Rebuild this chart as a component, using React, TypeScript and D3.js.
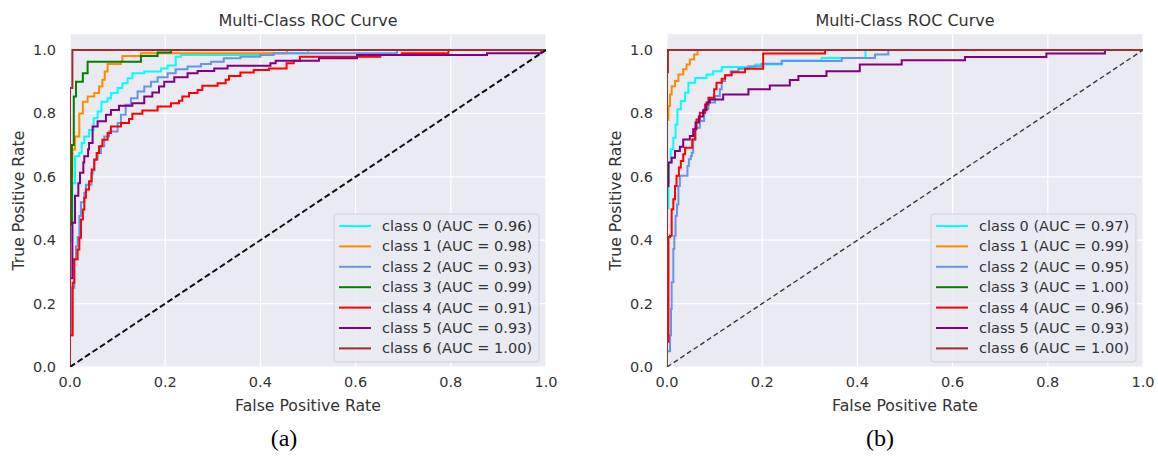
import { useEffect, useRef } from "react";
import * as d3 from "d3";

// ROC points: [fpr, tpr] — at each fpr the tpr steps up to the given value
const classA0 = [[0,0],[0,0.4],[0.005,0.58],[0.0105,0.665],[0.0196,0.675],[0.0245,0.707],[0.03,0.727],[0.04,0.748],[0.0496,0.785],[0.058,0.806],[0.066,0.837],[0.079,0.848],[0.086,0.864],[0.1,0.88],[0.11,0.895],[0.121,0.911],[0.131,0.927],[0.156,0.932],[0.191,0.942],[0.205,0.951],[0.222,0.979],[0.233,0.984],[0.407,0.99],[0.5,1],[1,1]];
const classA1 = [[0,0],[0,0.6],[0.005,0.686],[0.0105,0.727],[0.0196,0.8],[0.027,0.837],[0.037,0.853],[0.051,0.864],[0.061,0.885],[0.068,0.906],[0.073,0.932],[0.079,0.956],[0.107,0.963],[0.11,0.981],[0.149,0.99],[0.456,1],[1,1]];
const classA2 = [[0,0],[0,0.1],[0.004,0.25],[0.009,0.34],[0.0126,0.38],[0.016,0.41],[0.0196,0.476],[0.023,0.52],[0.03,0.55],[0.0335,0.575],[0.045,0.61],[0.0475,0.62],[0.051,0.655],[0.058,0.675],[0.065,0.696],[0.072,0.727],[0.082,0.743],[0.1,0.77],[0.107,0.796],[0.117,0.827],[0.128,0.848],[0.142,0.869],[0.156,0.885],[0.17,0.9],[0.184,0.914],[0.205,0.927],[0.222,0.939],[0.247,0.948],[0.275,0.956],[0.296,0.963],[0.323,0.974],[0.358,0.979],[0.4,0.984],[0.428,0.99],[0.687,1],[1,1]];
const classA3 = [[0,0],[0,0.45],[0.004,0.7],[0.008,0.853],[0.0126,0.9],[0.027,0.927],[0.037,0.963],[0.149,0.981],[0.184,0.992],[0.212,1],[1,1]];
const classA4 = [[0,0],[0,0.1],[0.0056,0.266],[0.009,0.34],[0.016,0.371],[0.0196,0.408],[0.023,0.465],[0.027,0.497],[0.03,0.534],[0.0335,0.56],[0.04,0.586],[0.0455,0.623],[0.051,0.654],[0.056,0.675],[0.061,0.696],[0.068,0.717],[0.079,0.738],[0.086,0.759],[0.107,0.77],[0.124,0.782],[0.131,0.799],[0.152,0.809],[0.184,0.822],[0.212,0.832],[0.229,0.84],[0.236,0.853],[0.25,0.864],[0.268,0.874],[0.278,0.887],[0.31,0.895],[0.327,0.906],[0.334,0.918],[0.358,0.929],[0.386,0.937],[0.418,0.942],[0.455,0.958],[0.47,0.966],[0.483,0.979],[0.652,0.984],[0.697,0.99],[0.795,1],[1,1]];
const classA5 = [[0,0],[0,0.28],[0.005,0.455],[0.0105,0.54],[0.0175,0.58],[0.021,0.613],[0.028,0.645],[0.03,0.665],[0.038,0.687],[0.04,0.707],[0.0475,0.759],[0.058,0.775],[0.0755,0.796],[0.086,0.811],[0.103,0.824],[0.131,0.832],[0.156,0.853],[0.173,0.866],[0.187,0.885],[0.198,0.9],[0.219,0.914],[0.247,0.927],[0.268,0.934],[0.303,0.942],[0.331,0.95],[0.421,0.958],[0.432,0.966],[0.523,0.974],[0.603,0.984],[0.876,0.99],[0.99,1],[1,1]];
const classA6 = [[0,0],[0,0.88],[0.005,1],[1,1]];

const classB0 = [[0,0],[0,0.5],[0.003,0.58],[0.0042,0.645],[0.0077,0.687],[0.0133,0.723],[0.018,0.765],[0.022,0.813],[0.029,0.839],[0.038,0.865],[0.045,0.897],[0.059,0.912],[0.083,0.923],[0.097,0.933],[0.115,0.946],[0.185,0.954],[0.241,0.967],[0.325,0.975],[0.417,1],[1,1]];
const classB1 = [[0,0],[0,0.78],[0.003,0.823],[0.0063,0.86],[0.0098,0.886],[0.0168,0.902],[0.024,0.923],[0.034,0.939],[0.041,0.954],[0.048,0.97],[0.057,0.986],[0.064,1],[1,1]];
const classB2 = [[0,0],[0,0.05],[0.0063,0.1],[0.0084,0.183],[0.0098,0.267],[0.0133,0.372],[0.0154,0.414],[0.018,0.477],[0.021,0.513],[0.024,0.571],[0.027,0.603],[0.043,0.634],[0.046,0.655],[0.05,0.666],[0.052,0.676],[0.055,0.718],[0.06,0.755],[0.069,0.776],[0.078,0.813],[0.087,0.834],[0.101,0.855],[0.111,0.876],[0.115,0.902],[0.122,0.92],[0.134,0.933],[0.15,0.941],[0.171,0.949],[0.199,0.957],[0.241,0.965],[0.367,0.975],[0.437,0.986],[0.465,1],[1,1]];
const classB3 = [[0,0],[0,1],[1,1]];
const classB4 = [[0,0],[0,0.08],[0.003,0.41],[0.0063,0.414],[0.0098,0.498],[0.0133,0.529],[0.0168,0.571],[0.02,0.603],[0.025,0.629],[0.029,0.65],[0.034,0.671],[0.038,0.692],[0.053,0.718],[0.059,0.75],[0.062,0.781],[0.069,0.802],[0.08,0.828],[0.087,0.849],[0.099,0.876],[0.104,0.897],[0.115,0.909],[0.122,0.92],[0.136,0.93],[0.164,0.941],[0.202,0.989],[0.332,1],[1,1]];
const classB5 = [[0,0],[0,0.57],[0.003,0.645],[0.0098,0.66],[0.0168,0.681],[0.027,0.695],[0.034,0.718],[0.048,0.729],[0.055,0.75],[0.06,0.771],[0.067,0.79],[0.076,0.81],[0.083,0.834],[0.09,0.844],[0.118,0.86],[0.171,0.876],[0.216,0.888],[0.258,0.905],[0.276,0.918],[0.335,0.933],[0.405,0.954],[0.493,0.968],[0.626,0.978],[0.797,0.989],[0.92,1],[1,1]];
const classB6 = [[0,0],[0,0.93],[0.002,1],[1,1]];

const curvesA = [classA0, classA1, classA2, classA3, classA4, classA5, classA6];
const curvesB = [classB0, classB1, classB2, classB3, classB4, classB5, classB6];

const classNames = ["class 0", "class 1", "class 2", "class 3", "class 4", "class 5", "class 6"];
const aucA = [0.96, 0.98, 0.93, 0.99, 0.91, 0.93, 1.0];
const aucB = [0.97, 0.99, 0.95, 1.0, 0.96, 0.93, 1.0];
const colors = ["#00FFFF", "#FF8C00", "#6495ED", "#008000", "#FF0000", "#800080", "#A52A2A"];

const ticks = [0, 0.2, 0.4, 0.6, 0.8, 1.0];

const FONT = "DejaVu Sans, sans-serif";
const TEXT = "#333";

function drawPanel(svg, opts) {
  const { id, x0, curves, auc, tag, tagX, diagColor, diagWidth, diagDash } = opts;
  const plotW = 476;
  const x = d3.scaleLinear().domain([0, 1]).range([x0, x0 + plotW]);
  const y = d3.scaleLinear().domain([0, 1.05]).range([367, 367 - 317 * 1.05]);

  const g = svg.append("g");

  // background
  g.append("rect")
    .attr("x", x(0))
    .attr("y", y(1.05))
    .attr("width", x(1) - x(0))
    .attr("height", y(0) - y(1.05))
    .attr("fill", "#EAEAF2");

  // clip to the axes area, like matplotlib does
  g.append("clipPath")
    .attr("id", id)
    .append("rect")
    .attr("x", x(0))
    .attr("y", y(1.05))
    .attr("width", x(1) - x(0))
    .attr("height", y(0) - y(1.05));

  // grid
  g.selectAll("line.gx")
    .data(ticks)
    .enter()
    .append("line")
    .attr("x1", (d) => x(d))
    .attr("x2", (d) => x(d))
    .attr("y1", y(0))
    .attr("y2", y(1.05))
    .attr("stroke", "#fff")
    .attr("stroke-width", 1.2);
  g.selectAll("line.gy")
    .data(ticks)
    .enter()
    .append("line")
    .attr("x1", x(0))
    .attr("x2", x(1))
    .attr("y1", (d) => y(d))
    .attr("y2", (d) => y(d))
    .attr("stroke", "#fff")
    .attr("stroke-width", 1.2);

  // curves
  const line = d3
    .line()
    .x((d) => x(d[0]))
    .y((d) => y(d[1]))
    .curve(d3.curveStepAfter);

  const plot = g.append("g").attr("clip-path", `url(#${id})`);

  curves.forEach((c, i) => {
    plot
      .append("path")
      .attr("d", line(c))
      .attr("fill", "none")
      .attr("stroke", colors[i])
      .attr("stroke-width", 2);
  });

  // chance line
  plot
    .append("line")
    .attr("x1", x(0))
    .attr("y1", y(0))
    .attr("x2", x(1))
    .attr("y2", y(1))
    .attr("stroke", diagColor)
    .attr("stroke-width", diagWidth)
    .attr("stroke-dasharray", diagDash);

  // tick labels
  g.selectAll("text.tx")
    .data(ticks)
    .enter()
    .append("text")
    .attr("x", (d) => x(d))
    .attr("y", 387)
    .attr("text-anchor", "middle")
    .style("font-family", FONT)
    .style("font-size", "14.5px")
    .style("fill", TEXT)
    .text((d) => d.toFixed(1));
  g.selectAll("text.ty")
    .data(ticks)
    .enter()
    .append("text")
    .attr("x", x(0) - 14)
    .attr("y", (d) => y(d) + 5)
    .attr("text-anchor", "end")
    .style("font-family", FONT)
    .style("font-size", "14.5px")
    .style("fill", TEXT)
    .text((d) => d.toFixed(1));

  // axis labels + title
  const cx = (x(0) + x(1)) / 2;
  g.append("text")
    .attr("x", cx)
    .attr("y", 411)
    .attr("text-anchor", "middle")
    .style("font-family", FONT)
    .style("font-size", "15.7px")
    .style("fill", TEXT)
    .text("False Positive Rate");
  g.append("text")
    .attr("transform", `translate(${x0 - 52}, ${(y(0) + y(1.05)) / 2}) rotate(-90)`)
    .attr("text-anchor", "middle")
    .attr("dy", "0.35em")
    .style("font-family", FONT)
    .style("font-size", "15.7px")
    .style("fill", TEXT)
    .text("True Positive Rate");
  g.append("text")
    .attr("x", cx)
    .attr("y", 26)
    .attr("text-anchor", "middle")
    .style("font-family", FONT)
    .style("font-size", "16px")
    .style("fill", TEXT)
    .text("Multi-Class ROC Curve");

  // legend
  const lw = 205;
  const lh = 148;
  const lx = x(1) - 7 - lw;
  const ly = y(0) - 5 - lh;
  const legend = g.append("g").attr("transform", `translate(${lx},${ly})`);
  legend
    .append("rect")
    .attr("width", lw)
    .attr("height", lh)
    .attr("rx", 3)
    .attr("fill", "#EAEAF2")
    .attr("fill-opacity", 0.8)
    .attr("stroke", "#d0d0d6");
  classNames.forEach((name, i) => {
    const ry = 12 + i * 20.4;
    legend
      .append("line")
      .attr("x1", 5)
      .attr("x2", 37)
      .attr("y1", ry)
      .attr("y2", ry)
      .attr("stroke", colors[i])
      .attr("stroke-width", 2);
    legend
      .append("text")
      .attr("x", 48)
      .attr("y", ry + 5)
      .style("font-family", FONT)
      .style("font-size", "14.5px")
      .style("fill", TEXT)
      .text(`${name} (AUC = ${auc[i].toFixed(2)})`);
  });

  // sub-figure tag
  g.append("text")
    .attr("x", tagX)
    .attr("y", 446)
    .attr("text-anchor", "middle")
    .style("font-family", "Liberation Serif, Times New Roman, serif")
    .style("font-size", "24px")
    .style("fill", "#000")
    .text(tag);
}

export default function App() {
  const ref = useRef(null);

  useEffect(() => {
    const root = d3.select(ref.current);
    root.selectAll("*").remove();
    const svg = root
      .append("svg")
      .attr("width", 1158)
      .attr("height", 456)
      .style("display", "block")
      .style("background", "#fff");

    drawPanel(svg, {
      id: "clipA",
      x0: 70,
      curves: curvesA,
      auc: aucA,
      tag: "(a)",
      tagX: 284,
      diagColor: "#111",
      diagWidth: 2,
      diagDash: "6,3",
    });
    drawPanel(svg, {
      id: "clipB",
      x0: 667,
      curves: curvesB,
      auc: aucB,
      tag: "(b)",
      tagX: 880,
      diagColor: "#3a3a3a",
      diagWidth: 1.4,
      diagDash: "5,3",
    });
  }, []);

  return <div ref={ref} style={{ position: "absolute", left: 0, top: 0 }} />;
}
